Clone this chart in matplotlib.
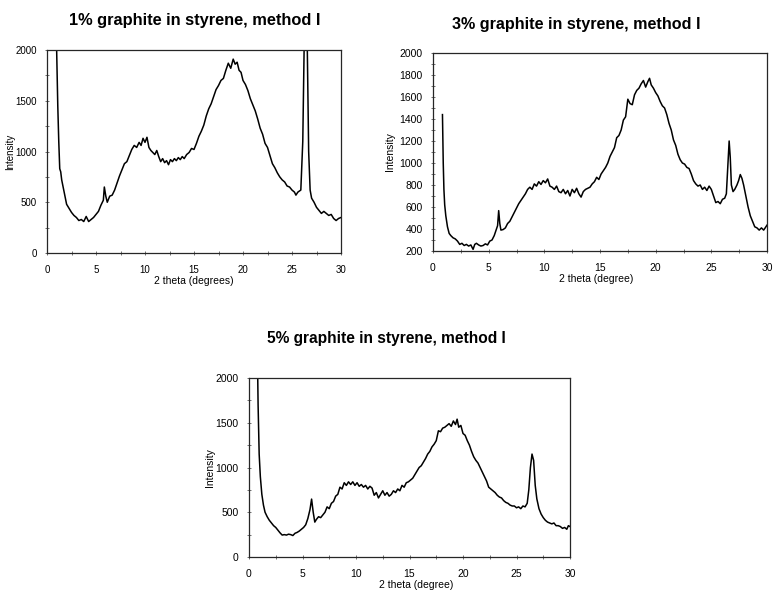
import matplotlib
matplotlib.use('Agg')
import matplotlib.pyplot as plt
from matplotlib.ticker import MultipleLocator

plt.rcParams['font.family'] = ['Liberation Sans', 'DejaVu Sans']

# 1% graphite in styrene (2 theta in degrees, intensity)
theta1 = [0.8, 0.9, 1.0, 1.1, 1.2, 1.3, 1.4, 1.5, 1.75, 2.0, 2.25, 2.5, 2.75, 3.0,
          3.25, 3.5, 3.75, 4.0, 4.25, 4.5, 4.75, 5.0, 5.25, 5.5, 5.75, 5.85, 6.0,
          6.15, 6.4, 6.65, 6.9, 7.15, 7.4, 7.65, 7.9, 8.15, 8.4, 8.65, 8.9, 9.15,
          9.4, 9.6, 9.8, 10.0, 10.2, 10.4, 10.6, 10.8, 11.0, 11.2, 11.4, 11.6,
          11.8, 12.0, 12.2, 12.4, 12.6, 12.8, 13.0, 13.2, 13.4, 13.6, 13.8, 14.0,
          14.25, 14.5, 14.75, 15.0, 15.25, 15.5, 15.75, 16.0, 16.25, 16.5, 16.75,
          17.0, 17.25, 17.5, 17.75, 18.0, 18.25, 18.5, 18.75, 19.0, 19.2, 19.4,
          19.6, 19.8, 20.0, 20.25, 20.5, 20.75, 21.0, 21.25, 21.5, 21.75, 22.0,
          22.25, 22.5, 22.75, 23.0, 23.25, 23.5, 23.75, 24.0, 24.25, 24.5, 24.75,
          25.0, 25.25, 25.4, 25.6, 25.9, 26.1, 26.25, 26.4, 26.55, 26.7, 26.85,
          27.0, 27.25, 27.5, 27.75, 28.0, 28.25, 28.5, 28.75, 29.0, 29.25, 29.5,
          29.75, 30.0]
counts1 = [3000, 2400, 1900, 1450, 1100, 830, 800, 720, 600, 480, 440, 400, 370, 350,
           320, 330, 310, 360, 310, 330, 350, 380, 410, 470, 520, 650, 560,
           500, 560, 570, 620, 690, 760, 820, 880, 900, 960, 1020, 1060, 1040,
           1090, 1060, 1130, 1090, 1140, 1040, 1010, 990, 970, 1010, 950, 900,
           930, 890, 910, 870, 920, 900, 930, 910, 940, 920, 950, 930,
           970, 990, 1030, 1020, 1080, 1150, 1200, 1260, 1350, 1420, 1470,
           1540, 1610, 1650, 1700, 1720, 1800, 1870, 1820, 1910, 1860, 1880,
           1800, 1780, 1700, 1660, 1600, 1520, 1460, 1400, 1320, 1230, 1170,
           1080, 1040, 960, 880, 840, 790, 750, 720, 700, 660, 650,
           620, 600, 570, 600, 620, 1100, 2100, 2800, 2100, 1000, 620,
           540, 500, 450, 420, 390, 410, 390, 370, 380, 340, 320,
           340, 350]

# 3% graphite in styrene
theta3 = [0.85, 0.92, 0.98, 1.05, 1.15, 1.3, 1.45, 1.6, 1.8, 2.0, 2.2, 2.4, 2.6,
          2.8, 3.0, 3.2, 3.4, 3.6, 3.75, 3.9, 4.1, 4.3, 4.5, 4.7, 4.9, 5.1, 5.3,
          5.5, 5.7, 5.8, 5.9, 6.0, 6.1, 6.3, 6.5, 6.7, 6.9, 7.1, 7.3, 7.5, 7.7,
          7.9, 8.1, 8.3, 8.5, 8.7, 8.9, 9.1, 9.3, 9.5, 9.7, 9.9, 10.1, 10.3,
          10.5, 10.7, 10.9, 11.1, 11.3, 11.5, 11.7, 11.9, 12.1, 12.3, 12.5, 12.7,
          12.9, 13.1, 13.3, 13.5, 13.7, 13.9, 14.1, 14.3, 14.5, 14.7, 14.9, 15.1,
          15.3, 15.5, 15.7, 15.9, 16.1, 16.3, 16.5, 16.7, 16.9, 17.1, 17.3, 17.5,
          17.7, 17.9, 18.1, 18.3, 18.5, 18.7, 18.9, 19.1, 19.3, 19.45, 19.6, 19.8,
          20.0, 20.2, 20.4, 20.6, 20.8, 21.0, 21.2, 21.4, 21.6, 21.8, 22.0, 22.2,
          22.4, 22.6, 22.8, 23.0, 23.2, 23.4, 23.6, 23.8, 24.0, 24.2, 24.4, 24.6,
          24.8, 25.0, 25.2, 25.4, 25.6, 25.8, 26.0, 26.2, 26.35, 26.5, 26.6, 26.7,
          26.8, 26.95, 27.1, 27.3, 27.45, 27.6, 27.75, 27.9, 28.1, 28.3, 28.5,
          28.7, 28.9, 29.1, 29.3, 29.5, 29.7, 29.9, 30.0]
counts3 = [1440, 1000, 760, 620, 520, 420, 360, 340, 320, 310, 290, 260, 270,
           250, 260, 245, 255, 215, 260, 270, 255, 245, 250, 265, 255, 290, 300,
           340, 400, 430, 567, 450, 390, 395, 410, 450, 470, 510, 550, 590, 630,
           660, 690, 720, 760, 780, 760, 810, 790, 830, 805, 840, 820, 855,
           790, 780, 760, 790, 740, 730, 760, 720, 750, 700, 760, 730,
           770, 720, 690, 740, 760, 770, 780, 810, 830, 870, 850, 900,
           930, 960, 1000, 1060, 1100, 1140, 1230, 1250, 1300, 1390, 1420, 1580,
           1540, 1530, 1620, 1660, 1680, 1720, 1750, 1690, 1740, 1770, 1710, 1680,
           1640, 1610, 1560, 1520, 1500, 1440, 1360, 1300, 1210, 1160, 1080, 1030,
           1000, 990, 960, 950, 900, 840, 810, 790, 800, 760, 780, 750,
           790, 760, 700, 640, 650, 630, 670, 680, 720, 1000, 1200, 1050,
           800, 740, 760, 800, 840, 895, 860, 800, 700, 600, 520,
           470, 420, 410, 390, 410, 390, 420, 435]

# 5% graphite in styrene
theta5 = [0.75, 0.85, 0.95, 1.06, 1.2, 1.35, 1.5, 1.7, 1.9, 2.1, 2.3, 2.5, 2.7,
          2.9, 3.1, 3.3, 3.5, 3.7, 3.9, 4.1, 4.3, 4.5, 4.7, 4.9, 5.1, 5.3, 5.5,
          5.7, 5.85, 6.0, 6.15, 6.3, 6.5, 6.7, 6.9, 7.1, 7.3, 7.5, 7.7, 7.9, 8.1,
          8.3, 8.5, 8.7, 8.9, 9.1, 9.3, 9.5, 9.7, 9.9, 10.1, 10.3, 10.5, 10.7,
          10.9, 11.1, 11.3, 11.5, 11.7, 11.9, 12.1, 12.3, 12.5, 12.7, 12.9, 13.1,
          13.3, 13.5, 13.7, 13.9, 14.1, 14.3, 14.5, 14.7, 14.9, 15.1, 15.3, 15.5,
          15.7, 15.9, 16.1, 16.3, 16.5, 16.7, 16.9, 17.1, 17.3, 17.5, 17.7, 17.9,
          18.1, 18.3, 18.5, 18.7, 18.9, 19.1, 19.3, 19.45, 19.6, 19.8, 20.0, 20.2,
          20.4, 20.6, 20.8, 21.0, 21.2, 21.4, 21.6, 21.8, 22.0, 22.2, 22.4, 22.6,
          22.8, 23.0, 23.2, 23.4, 23.6, 23.8, 24.0, 24.2, 24.4, 24.6, 24.8, 25.0,
          25.2, 25.4, 25.6, 25.8, 26.0, 26.15, 26.3, 26.45, 26.6, 26.75, 26.9,
          27.1, 27.3, 27.5, 27.7, 27.9, 28.1, 28.3, 28.5, 28.7, 28.9, 29.1, 29.3,
          29.5, 29.7, 29.85, 30.0]
counts5 = [2600, 1700, 1150, 897, 700, 580, 500, 450, 410, 380, 350, 330, 300,
           270, 245, 250, 245, 255, 250, 240, 265, 275, 290, 310, 330, 360, 430,
           530, 647, 500, 390, 420, 450, 440, 470, 500, 560, 540, 600, 620, 680,
           700, 780, 760, 830, 800, 840, 810, 840, 800, 830, 790, 810, 780,
           800, 760, 790, 770, 690, 720, 660, 700, 740, 690, 720, 680,
           700, 740, 720, 760, 740, 800, 780, 830, 840, 860, 880, 920,
           960, 1000, 1020, 1060, 1100, 1150, 1180, 1230, 1260, 1300, 1410, 1400,
           1440, 1450, 1470, 1490, 1460, 1520, 1480, 1540, 1450, 1470, 1380, 1360,
           1300, 1250, 1180, 1120, 1080, 1050, 1000, 950, 900, 850, 780, 760,
           740, 720, 690, 670, 660, 630, 610, 600, 580, 570, 570, 550,
           560, 540, 570, 560, 600, 750, 1000, 1150, 1080, 800, 650,
           540, 480, 440, 410, 390, 380, 370, 380, 350, 350, 340, 320,
           330, 310, 350, 340]

W, H = 773, 591


def make_axes(fig, left, top, right, bottom):
    return fig.add_axes([left / W, 1 - bottom / H, (right - left) / W, (bottom - top) / H])


def style(ax, ymin, ymajor, yminor, fs):
    ax.set_xlim(0, 30)
    ax.set_ylim(ymin, 2000)
    ax.xaxis.set_major_locator(MultipleLocator(5))
    ax.xaxis.set_minor_locator(MultipleLocator(2.5))
    ax.yaxis.set_major_locator(MultipleLocator(ymajor))
    ax.yaxis.set_minor_locator(MultipleLocator(yminor))
    ax.tick_params(which='both', direction='inout', length=3, width=0.6,
                   color='0.35', labelsize=fs)
    ax.tick_params(axis='x', pad=7)
    ax.tick_params(axis='y', pad=6)
    for s in ax.spines.values():
        s.set_linewidth(0.9)
        s.set_color('0.15')


def labels(ax, xtext, xcenter, ylabel_x, w, h):
    ax.set_xlabel(xtext, fontsize=7.5)
    ax.set_ylabel('Intensity', fontsize=7.5)
    ax.xaxis.label.set_va('center')
    ax.yaxis.label.set_va('center')
    ax.xaxis.set_label_coords(xcenter, -28 / h)
    ax.yaxis.set_label_coords(-ylabel_x / w, 0.5)


fig = plt.figure(figsize=(W / 100, H / 100), dpi=100)

ax1 = make_axes(fig, 47, 50, 341, 253)
ax1.plot(theta1, counts1, color='black', lw=1.1)
style(ax1, 0, 500, 250, 7)
labels(ax1, '2 theta (degrees)', 0.5, 37, 294, 203)
ax1.yaxis.label.set_fontsize(7)
fig.text(195 / W, 1 - 21 / H, '1% graphite in styrene, method I',
         ha='center', va='center', fontsize=11.8, fontweight='bold')

ax2 = make_axes(fig, 433, 53, 767, 251)
ax2.plot(theta3, counts3, color='black', lw=1.1)
style(ax2, 200, 200, 100, 7.5)
labels(ax2, '2 theta (degree)', 0.49, 43, 334, 198)
fig.text(576 / W, 1 - 25 / H, '3% graphite in styrene, method I',
         ha='center', va='center', fontsize=11.6, fontweight='bold')

ax3 = make_axes(fig, 249, 378, 570, 557)
ax3.plot(theta5, counts5, color='black', lw=1.1)
style(ax3, 0, 500, 250, 7.5)
labels(ax3, '2 theta (degree)', 0.52, 39, 321, 179)
fig.text(386 / W, 1 - 338 / H, '5% graphite in styrene, method I',
         ha='center', va='center', fontsize=11.2, fontweight='bold')

fig.savefig('out.png', dpi=100)
